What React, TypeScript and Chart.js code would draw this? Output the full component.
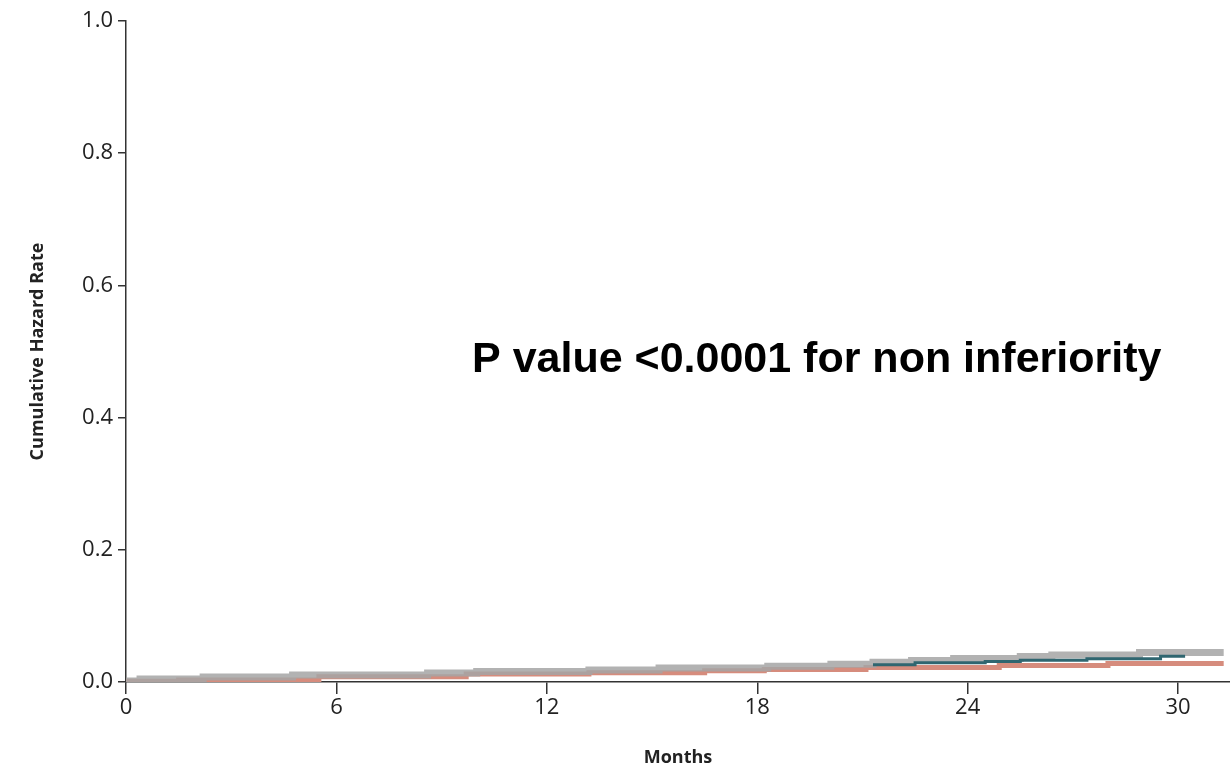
import React, { useEffect, useRef } from "react";
import { Chart, registerables } from "chart.js";

Chart.register(...registerables);

// months, cumulative hazard
const grayMonths = [0, 0.4, 2.2, 4.75, 8.6, 10, 13.2, 15.2, 18.3, 20.1, 21.3, 22.4, 23.6, 25.5, 26.4, 28.9, 31.3];
const grayValues = [0.0015, 0.0045, 0.0076, 0.0106, 0.0136, 0.016, 0.018, 0.021, 0.024, 0.027, 0.03, 0.0325, 0.0355, 0.0385, 0.041, 0.0446, 0.0446];

const salmonMonths = [0, 1.5, 5.5, 9.7, 13.2, 16.5, 18.2, 21.1, 24.9, 28, 31.3];
const salmonValues = [0.001, 0.003, 0.008, 0.012, 0.014, 0.017, 0.019, 0.022, 0.025, 0.028, 0.028];

const tealMonths = [21.3, 22.5, 24.5, 25.5, 27.4, 29.5, 30.2];
const tealValues = [0.026, 0.029, 0.031, 0.033, 0.035, 0.039, 0.039];

const xTickValues = [0, 6, 12, 18, 24, 30];
const yTickValues = [0, 0.2, 0.4, 0.6, 0.8, 1.0];

const annotationText = "P value <0.0001 for non inferiority";
const xTitle = "Months";
const yTitle = "Cumulative Hazard Rate";

const toPts = (xs: number[], ys: number[]) => xs.map((x, i) => ({ x, y: ys[i] }));

export default function App() {
  const ref = useRef<HTMLCanvasElement | null>(null);

  useEffect(() => {
    if (!ref.current) return;
    const annotation = {
      id: "annotation",
      afterDraw(chart: any) {
        const ctx = chart.ctx;
        ctx.save();
        ctx.font = 'bold 43px "Liberation Sans", Arial, sans-serif';
        ctx.fillStyle = "#000";
        ctx.textBaseline = "alphabetic";
        ctx.textAlign = "left";
        ctx.fillText(annotationText, 472, 372);
        ctx.restore();
      },
    };
    const bg = {
      id: "bg",
      beforeDraw(chart: any) {
        const ctx = chart.ctx;
        ctx.save();
        ctx.fillStyle = "#fff";
        ctx.fillRect(0, 0, chart.width, chart.height);
        ctx.restore();
      },
    };
    const tickFont = { family: '"Open Sans", sans-serif', size: 22 };
    const titleFont = { family: '"Open Sans", sans-serif', size: 18, weight: "bold" as const };
    const chart = new Chart(ref.current, {
      type: "line",
      data: {
        datasets: [
          {
            data: toPts(tealMonths, tealValues),
            borderColor: "#2f6670",
            borderWidth: 3,
            stepped: true,
            pointRadius: 0,
            fill: false,
            order: 1,
          },
          {
            data: toPts(grayMonths, grayValues),
            borderColor: "rgba(165,165,165,0.85)",
            borderWidth: 7,
            stepped: true,
            pointRadius: 0,
            fill: false,
            order: 2,
          },
          {
            data: toPts(salmonMonths, salmonValues),
            borderColor: "rgb(214,140,125)",
            borderWidth: 5,
            stepped: true,
            pointRadius: 0,
            fill: false,
            order: 3,
          },
        ],
      },
      options: {
        animation: false,
        responsive: true,
        maintainAspectRatio: false,
        layout: { padding: { top: 21, right: 0, left: 0, bottom: 0 } },
        plugins: { legend: { display: false }, tooltip: { enabled: false } },
        scales: {
          x: {
            type: "linear",
            min: 0,
            max: 31.48,
            afterBuildTicks: (s: any) => {
              s.ticks = xTickValues.map((v) => ({ value: v }));
            },
            afterFit: (s: any) => {
              s.height = 93;
            },
            ticks: { color: "#222", font: tickFont, padding: 1, maxRotation: 0 },
            grid: { display: true, drawOnChartArea: false, tickLength: 12, color: "#333", lineWidth: 1.5 },
            border: { display: true, color: "#333", width: 1.5 },
            title: { display: true, text: xTitle, color: "#222", font: titleFont, padding: { top: 0, bottom: 6 } },
          },
          y: {
            type: "linear",
            min: 0,
            max: 1,
            afterBuildTicks: (s: any) => {
              s.ticks = yTickValues.map((v) => ({ value: v }));
            },
            afterFit: (s: any) => {
              s.width = 126;
            },
            ticks: { color: "#222", font: tickFont, padding: 5, callback: (v: any) => Number(v).toFixed(1) },
            grid: { display: true, drawOnChartArea: false, tickLength: 8, color: "#333", lineWidth: 1.5 },
            border: { display: true, color: "#333", width: 1.5 },
            title: { display: true, text: yTitle, color: "#222", font: titleFont, padding: { top: 27, bottom: 0 } },
          },
        },
      },
      plugins: [bg, annotation],
    });
    return () => chart.destroy();
  }, []);

  return (
    <div style={{ position: "absolute", left: 0, top: 0, width: 1230, height: 775 }}>
      <canvas ref={ref} />
    </div>
  );
}
